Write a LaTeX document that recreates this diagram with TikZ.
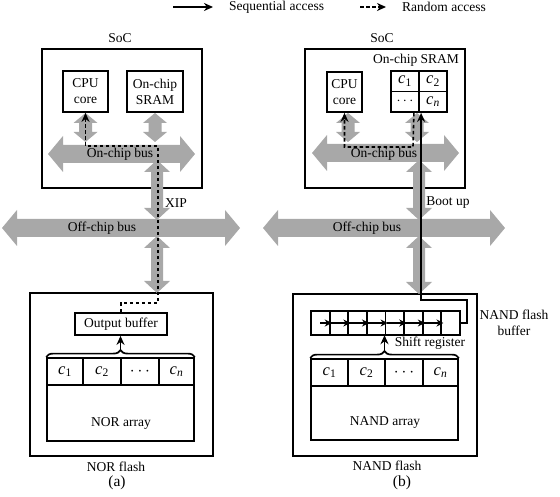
\documentclass[tikz,border=0pt]{standalone}
\usepackage{fontspec}
\setmainfont{Liberation Serif}
\usetikzlibrary{arrows.meta,decorations.pathreplacing,calc}
\definecolor{busgray}{gray}{0.66}
\tikzset{
 box/.style={draw, line width=1.8pt},
 cellbox/.style={draw, line width=1.8pt, minimum height=27pt, font=\fontsize{16.5}{18}\selectfont},
 rnd/.style={line width=1.6pt, dash pattern=on 3.5pt off 2.5pt, -{Stealth[length=9pt,width=8pt]}},
 seq/.style={line width=1.6pt, -{Stealth[length=9pt,width=8pt]}},
 regarr/.style={line width=1.4pt, -{Stealth[length=7pt,width=7pt]}},
 bracestyle/.style={decorate, decoration={brace, amplitude=7pt}, line width=1.7pt},
 pics/hbus/.style={code={\fill[busgray] (0,0) -- (15,-18) -- (15,-9) -- (#1-15,-9) -- (#1-15,-18) -- (#1,0) -- (#1-15,18) -- (#1-15,9) -- (15,9) -- (15,18) -- cycle;}},
 pics/vbus/.style={code={\fill[busgray] (0,0) -- (13,12) -- (6,12) -- (6,#1-12) -- (13,#1-12) -- (0,#1) -- (-13,#1-12) -- (-6,#1-12) -- (-6,12) -- (-13,12) -- cycle;}},
 pics/vsmall/.style={code={\fill[busgray] (0,0) -- (12,10) -- (6.5,10) -- (6.5,#1-10) -- (12,#1-10) -- (0,#1) -- (-12,#1-10) -- (-6.5,#1-10) -- (-6.5,10) -- (-12,10) -- cycle;}},
}
\begin{document}
\begin{tikzpicture}[x=1pt,y=-1pt, every node/.style={font=\fontsize{13.5}{16}\selectfont, inner sep=0pt}]
\path[use as bounding box] (0,0) rectangle (560,497);

% legend
\coordinate (ls1) at (173,7); \coordinate (ls2) at (213,7);
\draw[seq] (ls1) -- (ls2);
\node[anchor=west] (lseq) at (229,7) {Sequential access};
\coordinate (lr1) at (360,7); \coordinate (lr2) at (386,7);
\draw[rnd] (lr1) -- (lr2);
\node[anchor=west] (lrnd) at (402,7) {Random access};

% ---------- (a) ----------
\node[box, minimum width=160pt, minimum height=139pt] (soc1) at (122,118.5) {};
\node (soclbl1) at (120,38) {SoC};
\node[box, minimum width=45pt, minimum height=41pt, align=center] (cpu1) at (85.5,91.5) {CPU\\core};
\node[box, minimum width=56pt, minimum height=41pt, align=center] (sram1) at (155,91.5) {On-chip\\SRAM};

\node[box, minimum width=183pt, minimum height=163pt] (nor) at (121.5,374.5) {};
\node (norlbl) at (116,467) {NOR flash};
\node[font=\fontsize{15.5}{17}\selectfont] (capa) at (117,483) {(a)};
\node[box, minimum width=92pt, minimum height=22pt] (ob) at (121,324) {Output buffer};
\node[cellbox, minimum width=36pt] (a1) at (65,371.5) {\textit{c}\textsubscript{1}};
\node[cellbox, minimum width=38pt] (a2) at (102,371.5) {\textit{c}\textsubscript{2}};
\node[cellbox, minimum width=38pt] (ad) at (140,371.5) {$\cdots$};
\node[cellbox, minimum width=35pt] (an) at (176.5,371.5) {\textit{c}\textsubscript{\textit{n}}};
\node[box, minimum width=147pt, minimum height=56pt] (norarr) at (120.5,413) {};
\node (norarrlbl) at (121,423) {NOR array};

% gray buses (a)
\pic at (2,228) {hbus=238};
\pic at (48,154) {hbus=147};
\pic at (85.5,113) {vsmall=29};
\pic at (155,113) {vsmall=29};
\pic at (157,160) {vbus=60};
\pic at (157,236) {vbus=57};
\node (onbus1) at (120,154) {On-chip bus};
\node (offbus1) at (102,228) {Off-chip bus};
\node (xip) at (176,203) {XIP};

% brace and arrows (a)
\draw[bracestyle] (a1.north west) -- (an.north east);
\coordinate (bta) at ($(a1.north west)!0.5!(an.north east)+(0,-7)$);
\draw[seq] (bta) -- (bta |- ob.south);
\coordinate (xa1) at (158,303); \coordinate (xa2) at (158,146);
\draw[rnd] (ob.north) |- (xa1) -- (xa2) -| (cpu1.south);

% ---------- (b) ----------
\node[box, minimum width=160pt, minimum height=139pt] (soc2) at (385,118.5) {};
\node (soclbl2) at (382,38) {SoC};
\node (sramlbl2) at (416,60) {On-chip SRAM};
\node[box, minimum width=35pt, minimum height=40pt, align=center] (cpu2) at (344.5,92) {CPU\\core};
\node[box, minimum width=28pt, minimum height=20.5pt, font=\fontsize{16.5}{18}\selectfont] (sr1) at (405,81.25) {\textit{c}\textsubscript{1}};
\node[box, minimum width=28pt, minimum height=20.5pt, font=\fontsize{16.5}{18}\selectfont] (sr2) at (433,81.25) {\textit{c}\textsubscript{2}};
\node[box, minimum width=28pt, minimum height=20.5pt] (srd) at (405,101.75) {$\cdots$};
\node[box, minimum width=28pt, minimum height=20.5pt, font=\fontsize{16.5}{18}\selectfont] (srn) at (433,101.75) {\textit{c}\textsubscript{\textit{n}}};

\node[box, minimum width=184pt, minimum height=162pt] (nand) at (385,375) {};
\node (nandlbl) at (387,466) {NAND flash};
\node[font=\fontsize{15.5}{17}\selectfont] (capb) at (402,483) {(b)};
\foreach \i in {1,...,8}
  \node[box, minimum width=18.625pt, minimum height=24pt] (r\i) at ({311+18.625*(\i-0.5)},323) {};
\node[minimum width=149pt, minimum height=24pt] (reg) at (385.5,323) {};
\node[cellbox, minimum width=37pt] (b1) at (329.5,372.5) {\textit{c}\textsubscript{1}};
\node[cellbox, minimum width=37pt] (b2) at (366.5,372.5) {\textit{c}\textsubscript{2}};
\node[cellbox, minimum width=38pt] (bd) at (404,372.5) {$\cdots$};
\node[cellbox, minimum width=35pt] (bn) at (440.5,372.5) {\textit{c}\textsubscript{\textit{n}}};
\node[box, minimum width=147pt, minimum height=54pt] (nandarr) at (384.5,413) {};
\node (nandarrlbl) at (385,422) {NAND array};
\node (shiftlbl) at (430,343) {Shift register};
\node[align=center] (buflbl) at (514,323) {NAND flash\\buffer};

% gray buses (b)
\pic at (263,228) {hbus=242};
\pic at (312,153) {hbus=147};
\pic at (348,113) {vsmall=29};
\pic at (417,113) {vsmall=29};
\pic at (419,160) {vbus=60};
\pic at (419,236) {vbus=58};
\node (onbus2) at (384,154) {On-chip bus};
\node (offbus2) at (367,228) {Off-chip bus};
\node (boot) at (448,203) {Boot up};

% arrows (b)
\draw[regarr] (r1.center) -- ([xshift=3pt]r2.west);
\foreach \i [evaluate=\i as \j using int(\i+1)] in {2,...,7}
  \draw[regarr] ([xshift=2pt]r\i.west) -- ([xshift=3pt]r\j.west);
\draw[bracestyle] (b1.north west) -- (bn.north east);
\coordinate (btb) at ($(b1.north west)!0.5!(bn.north east)+(0,-7)$);
\draw[seq] (btb) -- (btb |- reg.south);
\coordinate (bt) at (467,300);
\draw[seq] (reg.east) -| (bt) -| ([xshift=3pt]srn.south west);
\coordinate (rb1) at (413,147);
\draw[rnd] ([xshift=-6pt]srd.south east) -- (rb1) -| (cpu2.south);
\end{tikzpicture}
\end{document}
